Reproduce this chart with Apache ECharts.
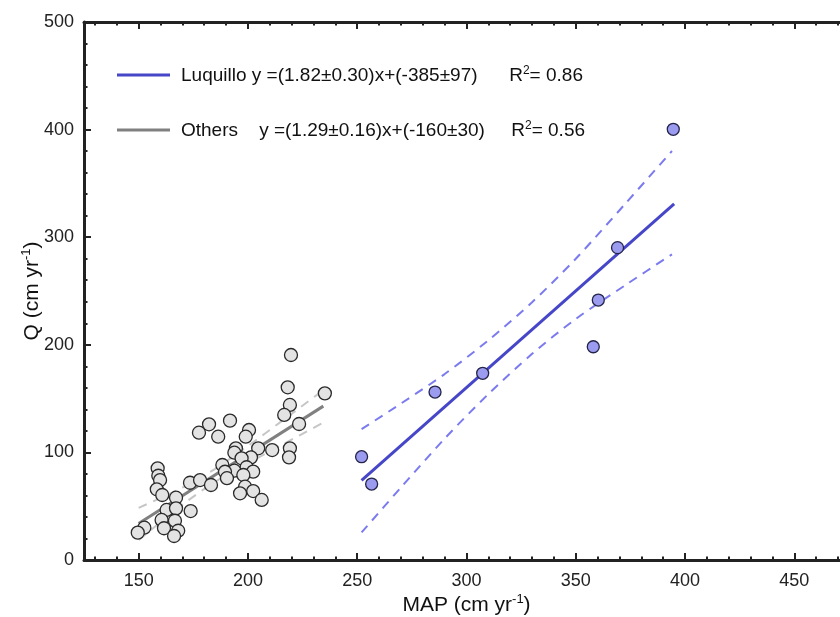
<!DOCTYPE html>
<html>
<head>
<meta charset="utf-8">
<script src="https://cdn.jsdelivr.net/npm/echarts@6/dist/echarts.min.js"></script>
<style>
html, body { margin: 0; padding: 0; background: #fff; }
#chart { width: 840px; height: 617px; }
</style>
</head>
<body>
<div id="chart"></div>
<script>
// 数据：Luquillo 站点 (MAP, Q)
var luquillo_points = [
	[252.0, 96.0], [256.6, 70.6], [285.6, 156.1], [307.4, 173.5],
	[358.0, 198.2], [360.3, 241.6], [369.1, 290.3], [394.6, 400.3]
];
// 其他站点 (MAP, Q)
var others_points = [
	[219.7, 190.5], [218.2, 160.5], [235.2, 154.9], [219.2, 144.1], [216.6, 134.8],
	[223.4, 126.4], [191.8, 129.5], [182.2, 126.1], [177.6, 118.3], [186.4, 114.6],
	[200.5, 120.8], [199.0, 114.6], [194.5, 103.8], [204.7, 103.8], [211.1, 102.2],
	[219.2, 103.8], [218.8, 95.4], [193.8, 99.7], [201.4, 95.4], [197.1, 94.5],
	[188.3, 88.3], [199.4, 86.2], [193.8, 83.0], [202.4, 82.1], [189.5, 82.0],
	[197.9, 79.0], [190.4, 76.0], [158.7, 85.2], [159.0, 78.3], [159.8, 74.3],
	[173.5, 71.8], [178.1, 74.3], [183.1, 69.7], [158.3, 65.7], [160.8, 60.4],
	[167.1, 57.9], [198.7, 68.1], [202.4, 64.1], [196.4, 62.0], [206.3, 55.8],
	[162.8, 46.5], [167.1, 48.0], [173.8, 45.5], [160.5, 37.2], [166.6, 36.5],
	[161.6, 29.5], [168.1, 27.2], [152.6, 30.0], [149.6, 25.4], [166.2, 22.3]
];
// 拟合线及置信带
var luquillo_fit = [[252, 74], [395, 331]];
var luquillo_upper = [[252, 121.6], [270, 145.4], [290, 172.8], [310, 204.2], [330, 239.6], [350, 280], [373, 331.9], [394, 380.1]];
var luquillo_lower = [[252, 25.6], [270, 67.4], [290, 112.8], [310, 154.2], [330, 191.6], [350, 224], [373, 255.9], [394, 284.1]];
var others_fit = [[150, 34], [234.5, 143]];
var others_upper = [[150, 48.5], [170, 67.3], [185, 84.7], [200, 106], [215, 128.4], [233, 155.6]];
var others_lower = [[150, 18.5], [170, 51.3], [185, 72.7], [200, 90], [215, 106.4], [235, 128.2]];
// 刻度
var x_major_ticks = [150, 200, 250, 300, 350, 400, 450];
var x_minor_ticks = [130, 140, 160, 170, 180, 190, 210, 220, 230, 240, 260, 270, 280, 290,
	310, 320, 330, 340, 360, 370, 380, 390, 410, 420, 430, 440, 460, 470];
var legend_texts = [
	"Luquillo y =(1.82±0.30)x+(-385±97)      R{sup|2}= 0.86",
	"Others    y =(1.29±0.16)x+(-160±30)     R{sup|2}= 0.56"
];

var font_family = "'Liberation Sans', Arial, Helvetica, sans-serif";
var axis_color = "#222";
var sup_rich = {
	sup: { fontSize: 12, verticalAlign: "top", lineHeight: 22, fontFamily: font_family, color: "#111" }
};
var name_rich = {
	sup: { fontSize: 13, verticalAlign: "top", lineHeight: 24, fontFamily: font_family, color: "#111" }
};

function x_axis(pos, ticks, major, show_line) {
	return {
		type: "value",
		position: pos,
		min: 125,
		max: 475,
		name: (pos === "bottom" && major) ? "MAP (cm yr{sup|-1})" : "",
		nameLocation: "middle",
		nameGap: 33,
		nameMoveOverlap: false,
		nameTextStyle: { fontSize: 21, color: "#111", fontFamily: font_family, rich: name_rich },
		axisLine: { show: show_line, onZero: false, lineStyle: { color: axis_color, width: 3 } },
		axisTick: { show: true, inside: true, length: major ? 7 : 3.5, customValues: ticks,
			lineStyle: { color: axis_color, width: 2 } },
		axisLabel: { show: pos === "bottom" && major, customValues: x_major_ticks, margin: 12,
			fontSize: 18, color: "#222", fontFamily: font_family },
		splitLine: { show: false }
	};
}

var chart = echarts.init(document.getElementById("chart"));
var option = {
	animation: false,
	backgroundColor: "#fff",
	grid: { left: 84, top: 22, width: 765, height: 538, containLabel: false, outerBoundsMode: "none" },
	xAxis: [
		x_axis("bottom", x_major_ticks, true, true),
		x_axis("bottom", x_minor_ticks, false, false),
		x_axis("top", x_major_ticks, true, true),
		x_axis("top", x_minor_ticks, false, false)
	],
	yAxis: {
		type: "value",
		min: 0,
		max: 500,
		interval: 100,
		name: "Q (cm yr{sup|-1})",
		nameLocation: "middle",
		nameGap: 40,
		nameMoveOverlap: false,
		nameTextStyle: { fontSize: 21, color: "#111", fontFamily: font_family, rich: name_rich },
		axisLine: { show: true, onZero: false, lineStyle: { color: axis_color, width: 3 } },
		axisTick: { show: true, inside: true, length: 7, lineStyle: { color: axis_color, width: 2 } },
		minorTick: { show: true, splitNumber: 5, length: 3.5, lineStyle: { color: axis_color, width: 2 } },
		axisLabel: { margin: 10, fontSize: 18, color: "#222", fontFamily: font_family },
		splitLine: { show: false }
	},
	graphic: [
		{ type: "line", shape: { x1: 117, y1: 75, x2: 170, y2: 75 }, style: { stroke: "#4646c8", lineWidth: 3 } },
		{ type: "line", shape: { x1: 117, y1: 130, x2: 170, y2: 130 }, style: { stroke: "#808080", lineWidth: 3 } },
		{ type: "text", left: 181, top: 65, style: { text: legend_texts[0], rich: sup_rich,
			font: "19px " + font_family, fill: "#111" } },
		{ type: "text", left: 181, top: 120, style: { text: legend_texts[1], rich: sup_rich,
			font: "19px " + font_family, fill: "#111" } }
	],
	series: [
		{ type: "line", data: others_upper, smooth: 0.3, showSymbol: false, z: 2,
			lineStyle: { color: "#c6c6c6", width: 2, type: [9, 7] } },
		{ type: "line", data: others_lower, smooth: 0.3, showSymbol: false, z: 2,
			lineStyle: { color: "#c6c6c6", width: 2, type: [9, 7] } },
		{ type: "line", data: others_fit, showSymbol: false, z: 3,
			lineStyle: { color: "#808080", width: 3 } },
		{ type: "line", data: luquillo_upper, smooth: 0.3, showSymbol: false, z: 2,
			lineStyle: { color: "#7b7bef", width: 2, type: [9, 7] } },
		{ type: "line", data: luquillo_lower, smooth: 0.3, showSymbol: false, z: 2,
			lineStyle: { color: "#7b7bef", width: 2, type: [9, 7] } },
		{ type: "line", data: luquillo_fit, showSymbol: false, z: 3,
			lineStyle: { color: "#4646c8", width: 3 } },
		{ type: "scatter", data: others_points, symbolSize: 13, z: 5,
			itemStyle: { color: "#e3e3e3", borderColor: "#2a2a2a", borderWidth: 1.3, opacity: 1 } },
		{ type: "scatter", data: luquillo_points, symbolSize: 12, z: 5,
			itemStyle: { color: "#9b9bef", borderColor: "#24244a", borderWidth: 1.3, opacity: 1 } }
	]
};
chart.setOption(option);
</script>
</body>
</html>
